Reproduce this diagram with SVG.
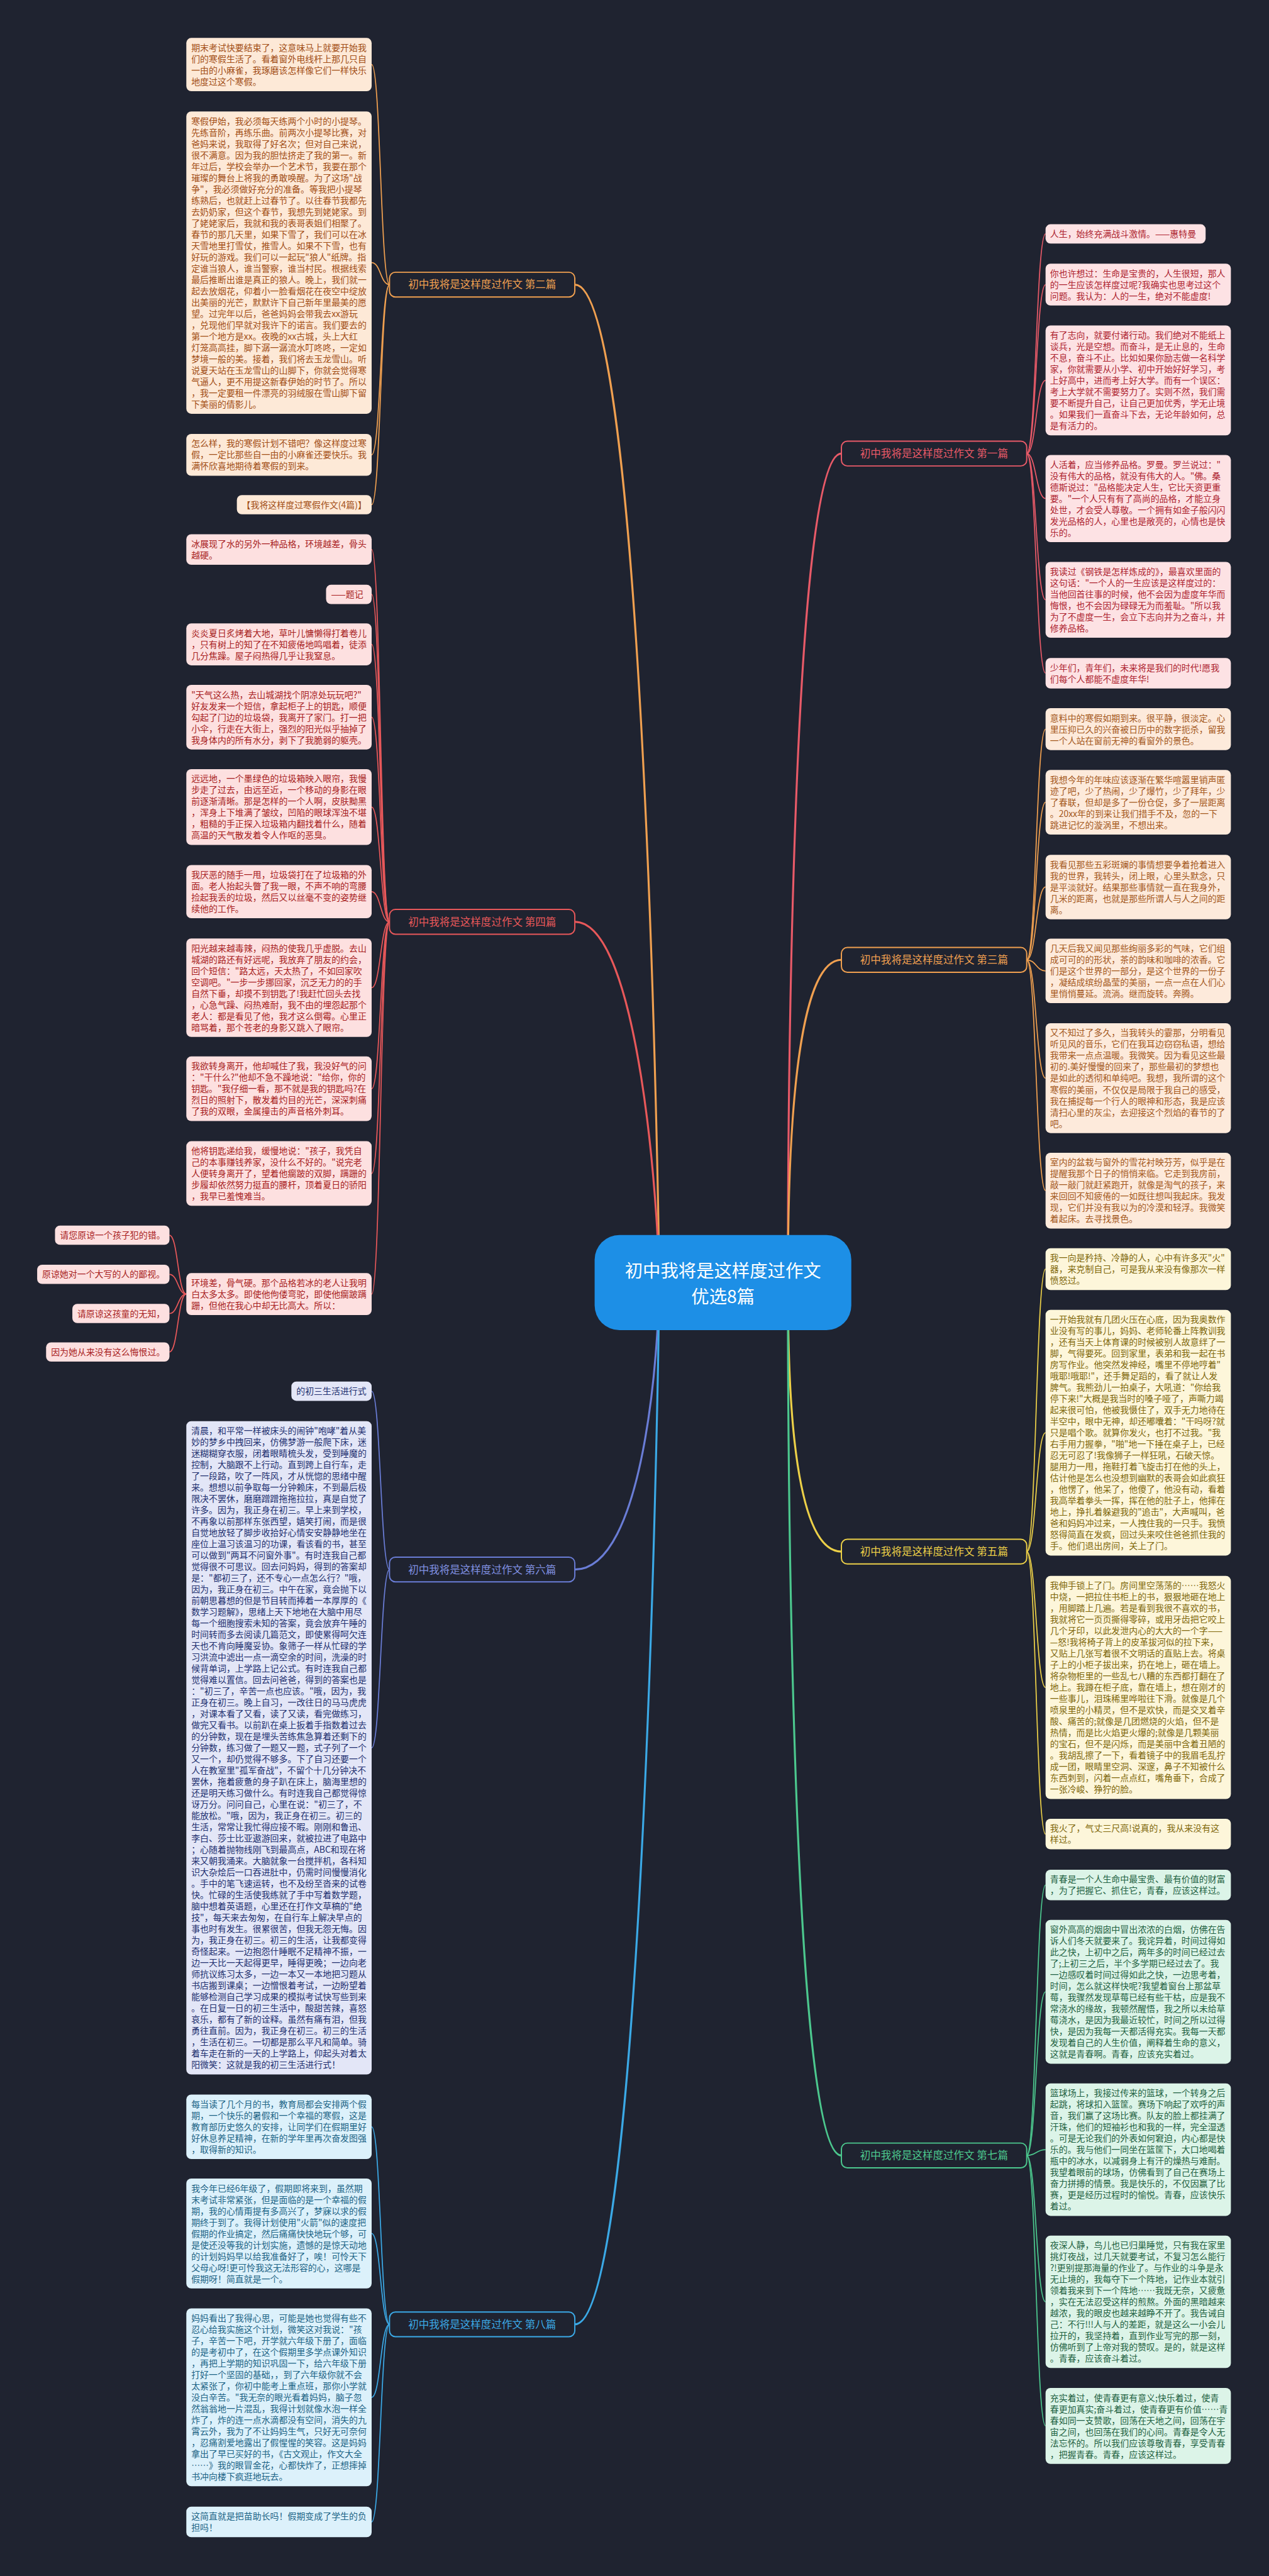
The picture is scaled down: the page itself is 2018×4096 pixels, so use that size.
<svg xmlns="http://www.w3.org/2000/svg" width="2018" height="4096" viewBox="0 0 2018 4096">
<style>
text{font-family:"Noto Sans CJK SC","Noto Sans",sans-serif;font-size:17.7px}
.lf{stroke-width:1}
.c2{fill:#fde9d7}.x2{fill:#a24e16}.s2{stroke:#f0a050}
.c4{fill:#fde0e0}.x4{fill:#a81e22}.s4{stroke:#e8585a}
.c6{fill:#e3e6f7}.x6{fill:#223070}.s6{stroke:#6a7dd6}
.c8{fill:#dcf1fb}.x8{fill:#1c6486}.s8{stroke:#3ba9e6}
.c1{fill:#fde2e4}.x1{fill:#ae2430}.s1{stroke:#e85a68}
.c3{fill:#fdeadb}.x3{fill:#a4581c}.s3{stroke:#f0a050}
.c5{fill:#fdf6da}.x5{fill:#80680c}.s5{stroke:#ecd048}
.c7{fill:#dcf4e8}.x7{fill:#1f6242}.s7{stroke:#4cc88e}
.ln{fill:none;stroke-width:2.2}
.mn{fill:none;stroke-width:4}
.br{fill:#1f2330;stroke-width:2.5}
.bt{font-size:21px}
.ct{font-size:36px;fill:#ffffff}
</style>
<rect x="0" y="0" width="2018" height="4096" fill="#1f2330"/>
<g transform="scale(0.788)">
<g id="connectors">
<path class="mn s2" d="M1160,574.35C1300,574.35 1330,2450 1330,2588"/>
<path class="mn s4" d="M1160,1860.1C1290,1860.1 1330,2450 1330,2588"/>
<path class="mn s6" d="M1160,3167C1300,3167 1330,2720 1330,2588"/>
<path class="mn s8" d="M1160,4690.2C1300,4690.2 1330,2720 1330,2588"/>
<path class="mn s1" d="M1698,915.2C1590,915.2 1590,2450 1590,2588"/>
<path class="mn s3" d="M1698,1936.9C1590,1936.9 1590,2450 1590,2588"/>
<path class="mn s5" d="M1698,3130.9C1590,3130.9 1590,2720 1590,2588"/>
<path class="mn s7" d="M1698,4349.4C1590,4349.4 1590,2720 1590,2588"/>
<path class="ln s2" d="M786,574.35C768,574.35 768,130.3 750,130.3"/>
<path class="ln s2" d="M786,574.35C768,574.35 768,529.85 750,529.85"/>
<path class="ln s2" d="M786,574.35C768,574.35 768,917.9 750,917.9"/>
<path class="ln s2" d="M786,574.35C768,574.35 768,1018.4 750,1018.4"/>
<path class="ln s4" d="M786,1860.1C768,1860.1 768,1108.85 750,1108.85"/>
<path class="ln s4" d="M786,1860.1C768,1860.1 768,1199.4 750,1199.4"/>
<path class="ln s4" d="M786,1860.1C768,1860.1 768,1300.3 750,1300.3"/>
<path class="ln s4" d="M786,1860.1C768,1860.1 768,1447.1 750,1447.1"/>
<path class="ln s4" d="M786,1860.1C768,1860.1 768,1628.55 750,1628.55"/>
<path class="ln s4" d="M786,1860.1C768,1860.1 768,1799.2 750,1799.2"/>
<path class="ln s4" d="M786,1860.1C768,1860.1 768,1993 750,1993"/>
<path class="ln s4" d="M786,1860.1C768,1860.1 768,2196.9 750,2196.9"/>
<path class="ln s4" d="M786,1860.1C768,1860.1 768,2367.9 750,2367.9"/>
<path class="ln s4" d="M786,1860.1C768,1860.1 768,2611.3 750,2611.3"/>
<path class="ln s4" d="M376,2611.3C359,2611.3 359,2492.4 342,2492.4"/>
<path class="ln s4" d="M376,2611.3C359,2611.3 359,2571.4 342,2571.4"/>
<path class="ln s4" d="M376,2611.3C359,2611.3 359,2650.4 342,2650.4"/>
<path class="ln s4" d="M376,2611.3C359,2611.3 359,2728 342,2728"/>
<path class="ln s6" d="M786,3167C768,3167 768,2807.2 750,2807.2"/>
<path class="ln s6" d="M786,3167C768,3167 768,3526.8 750,3526.8"/>
<path class="ln s8" d="M786,4690.2C768,4690.2 768,4291.6 750,4291.6"/>
<path class="ln s8" d="M786,4690.2C768,4690.2 768,4506.8 750,4506.8"/>
<path class="ln s8" d="M786,4690.2C768,4690.2 768,4837.4 750,4837.4"/>
<path class="ln s8" d="M786,4690.2C768,4690.2 768,5088.85 750,5088.85"/>
<path class="ln s1" d="M2072,915.2C2091,915.2 2091,471.9 2110,471.9"/>
<path class="ln s1" d="M2072,915.2C2091,915.2 2091,574.3 2110,574.3"/>
<path class="ln s1" d="M2072,915.2C2091,915.2 2091,767.6 2110,767.6"/>
<path class="ln s1" d="M2072,915.2C2091,915.2 2091,1006 2110,1006"/>
<path class="ln s1" d="M2072,915.2C2091,915.2 2091,1210.35 2110,1210.35"/>
<path class="ln s1" d="M2072,915.2C2091,915.2 2091,1358.45 2110,1358.45"/>
<path class="ln s3" d="M2072,1936.9C2091,1936.9 2091,1471.3 2110,1471.3"/>
<path class="ln s3" d="M2072,1936.9C2091,1936.9 2091,1618.8 2110,1618.8"/>
<path class="ln s3" d="M2072,1936.9C2091,1936.9 2091,1789.9 2110,1789.9"/>
<path class="ln s3" d="M2072,1936.9C2091,1936.9 2091,1959.1 2110,1959.1"/>
<path class="ln s3" d="M2072,1936.9C2091,1936.9 2091,2175.5 2110,2175.5"/>
<path class="ln s3" d="M2072,1936.9C2091,1936.9 2091,2402.55 2110,2402.55"/>
<path class="ln s5" d="M2072,3130.9C2091,3130.9 2091,2560.9 2110,2560.9"/>
<path class="ln s5" d="M2072,3130.9C2091,3130.9 2091,2890.9 2110,2890.9"/>
<path class="ln s5" d="M2072,3130.9C2091,3130.9 2091,3405.1 2110,3405.1"/>
<path class="ln s5" d="M2072,3130.9C2091,3130.9 2091,3700.85 2110,3700.85"/>
<path class="ln s7" d="M2072,4349.4C2091,4349.4 2091,3803.65 2110,3803.65"/>
<path class="ln s7" d="M2072,4349.4C2091,4349.4 2091,4019.1 2110,4019.1"/>
<path class="ln s7" d="M2072,4349.4C2091,4349.4 2091,4337.7 2110,4337.7"/>
<path class="ln s7" d="M2072,4349.4C2091,4349.4 2091,4644.7 2110,4644.7"/>
<path class="ln s7" d="M2072,4349.4C2091,4349.4 2091,4895.15 2110,4895.15"/>
</g>

<g id="center">
<rect x="1200" y="2492" width="518" height="192" rx="50" fill="#1d8fe6"/>
<text class="ct" x="1459" y="2578" text-anchor="middle">初中我将是这样度过作文</text>
<text class="ct" x="1459" y="2630" text-anchor="middle">优选8篇</text>
</g>

<g id="branch2"><rect class="br s2" x="786" y="549.35" width="374" height="50" rx="12"/><text class="bt x2" x="973" y="581.85" text-anchor="middle" style="fill:#f0a050">初中我将是这样度过作文 第二篇</text></g>
<g id="branch4"><rect class="br s4" x="786" y="1835.1" width="374" height="50" rx="12"/><text class="bt" x="973" y="1867.6" text-anchor="middle" style="fill:#e8585a">初中我将是这样度过作文 第四篇</text></g>
<g id="branch6"><rect class="br s6" x="786" y="3142" width="374" height="50" rx="12"/><text class="bt" x="973" y="3174.5" text-anchor="middle" style="fill:#8090e0">初中我将是这样度过作文 第六篇</text></g>
<g id="branch8"><rect class="br s8" x="786" y="4665.2" width="374" height="50" rx="12"/><text class="bt" x="973" y="4697.7" text-anchor="middle" style="fill:#3ba9e6">初中我将是这样度过作文 第八篇</text></g>
<g id="branch1"><rect class="br s1" x="1698" y="890.2" width="374" height="50" rx="12"/><text class="bt" x="1885" y="922.7" text-anchor="middle" style="fill:#e85a68">初中我将是这样度过作文 第一篇</text></g>
<g id="branch3"><rect class="br s3" x="1698" y="1911.9" width="374" height="50" rx="12"/><text class="bt" x="1885" y="1944.4" text-anchor="middle" style="fill:#f0a050">初中我将是这样度过作文 第三篇</text></g>
<g id="branch5"><rect class="br s5" x="1698" y="3105.9" width="374" height="50" rx="12"/><text class="bt" x="1885" y="3138.4" text-anchor="middle" style="fill:#ecd048">初中我将是这样度过作文 第五篇</text></g>
<g id="branch7"><rect class="br s7" x="1698" y="4324.4" width="374" height="50" rx="12"/><text class="bt" x="1885" y="4356.9" text-anchor="middle" style="fill:#4cc88e">初中我将是这样度过作文 第七篇</text></g>

<g id="A1"><rect class="c2" x="376" y="76.6" width="374" height="107.4" rx="10"/><text class="x2" x="386" y="102.6"><tspan x="386">期末考试快要结束了，这意味马上就要开始我</tspan><tspan x="386" dy="22.85">们的寒假生活了。看着窗外电线杆上那几只自</tspan><tspan x="386" dy="22.85">一由的小麻雀，我琢磨该怎样像它们一样快乐</tspan><tspan x="386" dy="22.85">地度过这个寒假。</tspan></text></g>
<g id="A2"><rect class="c2" x="376" y="224.8" width="374" height="610.1" rx="10"/><text class="x2" x="386" y="250.8"><tspan x="386">寒假伊始，我必须每天练两个小时的小提琴。</tspan><tspan x="386" dy="22.85">先练音阶，再练乐曲。前两次小提琴比赛，对</tspan><tspan x="386" dy="22.85">爸妈来说，我取得了好名次；但对自己来说，</tspan><tspan x="386" dy="22.85">很不满意。因为我的胆怯挤走了我的第一。新</tspan><tspan x="386" dy="22.85">年过后，学校会举办一个艺术节，我要在那个</tspan><tspan x="386" dy="22.85">璀璨的舞台上将我的勇敢唤醒。为了这场"战</tspan><tspan x="386" dy="22.85">争"，我必须做好充分的准备。等我把小提琴</tspan><tspan x="386" dy="22.85">练熟后，也就赶上过春节了。以往春节我都先</tspan><tspan x="386" dy="22.85">去奶奶家，但这个春节，我想先到姥姥家。到</tspan><tspan x="386" dy="22.85">了姥姥家后，我就和我的表哥表姐们相聚了。</tspan><tspan x="386" dy="22.85">春节的那几天里，如果下雪了，我们可以在冰</tspan><tspan x="386" dy="22.85">天雪地里打雪仗，推雪人。如果不下雪，也有</tspan><tspan x="386" dy="22.85">好玩的游戏。我们可以一起玩"狼人"纸牌。指</tspan><tspan x="386" dy="22.85">定谁当狼人，谁当警察，谁当村民。根据线索</tspan><tspan x="386" dy="22.85">最后推断出谁是真正的狼人。晚上，我们就一</tspan><tspan x="386" dy="22.85">起去放烟花，仰着小一脸看烟花在夜空中绽放</tspan><tspan x="386" dy="22.85">出美丽的光芒，默默许下自己新年里最美的愿</tspan><tspan x="386" dy="22.85">望。过完年以后，爸爸妈妈会带我去xx游玩</tspan><tspan x="386" dy="22.85">，兑现他们早就对我许下的诺言。我们要去的</tspan><tspan x="386" dy="22.85">第一个地方是xx。夜晚的xx古城，头上大红</tspan><tspan x="386" dy="22.85">灯笼高高挂，脚下潺一潺流水叮咚咚，一定如</tspan><tspan x="386" dy="22.85">梦境一般的美。接着，我们将去玉龙雪山。听</tspan><tspan x="386" dy="22.85">说夏天站在玉龙雪山的山脚下，你就会觉得寒</tspan><tspan x="386" dy="22.85">气逼人，更不用提这新春伊始的时节了。所以</tspan><tspan x="386" dy="22.85">，我一定要租一件漂亮的羽绒服在雪山脚下留</tspan><tspan x="386" dy="22.85">下美丽的倩影儿。</tspan></text></g>
<g id="A3"><rect class="c2" x="376" y="875.6" width="374" height="84.55" rx="10"/><text class="x2" x="386" y="901.6"><tspan x="386">怎么样，我的寒假计划不错吧？像这样度过寒</tspan><tspan x="386" dy="22.85">假，一定比那些自一由的小麻雀还要快乐。我</tspan><tspan x="386" dy="22.85">满怀欣喜地期待着寒假的到来。</tspan></text></g>
<g id="A4"><rect class="c2" x="478" y="999" width="272" height="38.85" rx="10"/><text class="x2" x="488" y="1025">【我将这样度过寒假作文(4篇)】</text></g>

<g id="B1"><rect class="c4" x="376" y="1078" width="374" height="61.7" rx="10"/><text class="x4" x="386" y="1104"><tspan x="386">冰展现了水的另外一种品格，环境越差，骨头</tspan><tspan x="386" dy="22.85">越硬。</tspan></text></g>
<g id="B2"><rect class="c4" x="658" y="1180" width="92" height="38.85" rx="10"/><text class="x4" x="668" y="1206">——题记</text></g>
<g id="B3"><rect class="c4" x="376" y="1258" width="374" height="84.55" rx="10"/><text class="x4" x="386" y="1284"><tspan x="386">炎炎夏日炙烤着大地，草叶儿慵懒得打着卷儿</tspan><tspan x="386" dy="22.85">，只有树上的知了在不知疲倦地鸣唱着，徒添</tspan><tspan x="386" dy="22.85">几分焦躁。屋子闷热得几乎让我窒息。</tspan></text></g>
<g id="B4"><rect class="c4" x="376" y="1382" width="374" height="130.25" rx="10"/><text class="x4" x="386" y="1408"><tspan x="386">"天气这么热，去山城湖找个阴凉处玩玩吧?"</tspan><tspan x="386" dy="22.85">好友发来一个短信，拿起柜子上的钥匙，顺便</tspan><tspan x="386" dy="22.85">勾起了门边的垃圾袋，我离开了家门。打一把</tspan><tspan x="386" dy="22.85">小伞，行走在大街上，强烈的阳光似乎抽掉了</tspan><tspan x="386" dy="22.85">我身体内的所有水分，剥下了我脆弱的躯壳。</tspan></text></g>
<g id="B5"><rect class="c4" x="376" y="1552" width="374" height="153.1" rx="10"/><text class="x4" x="386" y="1578"><tspan x="386">远远地，一个墨绿色的垃圾箱映入眼帘，我慢</tspan><tspan x="386" dy="22.85">步走了过去，由远至近，一个移动的身影在眼</tspan><tspan x="386" dy="22.85">前逐渐清晰。那是怎样的一个人啊，皮肤黝黑</tspan><tspan x="386" dy="22.85">，浑身上下堆满了皱纹，凹陷的眼球浑浊不堪</tspan><tspan x="386" dy="22.85">，粗糙的手正探入垃圾箱内翻找着什么，随着</tspan><tspan x="386" dy="22.85">高温的天气散发着令人作呕的恶臭。</tspan></text></g>
<g id="B6"><rect class="c4" x="376" y="1745.5" width="374" height="107.4" rx="10"/><text class="x4" x="386" y="1771.5"><tspan x="386">我厌恶的随手一甩，垃圾袋打在了垃圾箱的外</tspan><tspan x="386" dy="22.85">面。老人抬起头瞥了我一眼，不声不响的弯腰</tspan><tspan x="386" dy="22.85">捡起我丢的垃圾，然后又以丝毫不变的姿势继</tspan><tspan x="386" dy="22.85">续他的工作。</tspan></text></g>
<g id="B7"><rect class="c4" x="376" y="1893.6" width="374" height="198.8" rx="10"/><text class="x4" x="386" y="1919.6"><tspan x="386">阳光越来越毒辣，闷热的使我几乎虚脱。去山</tspan><tspan x="386" dy="22.85">城湖的路还有好远呢，我放弃了朋友的约会，</tspan><tspan x="386" dy="22.85">回个短信："路太远，天太热了，不如回家吹</tspan><tspan x="386" dy="22.85">空调吧。"一步一步挪回家，沉乏无力的的手</tspan><tspan x="386" dy="22.85">自然下垂，却摸不到钥匙了!我赶忙回头去找</tspan><tspan x="386" dy="22.85">，心急气躁、闷热难耐，我不由的埋怨起那个</tspan><tspan x="386" dy="22.85">老人：都是看见了他，我才这么倒霉。心里正</tspan><tspan x="386" dy="22.85">暗骂着，那个苍老的身影又跳入了眼帘。</tspan></text></g>
<g id="B8"><rect class="c4" x="376" y="2131.8" width="374" height="130.25" rx="10"/><text class="x4" x="386" y="2157.8"><tspan x="386">我欲转身离开，他却喊住了我，我没好气的问</tspan><tspan x="386" dy="22.85">："干什么?"他却不急不躁地说："给你，你的</tspan><tspan x="386" dy="22.85">钥匙。"我仔细一看，那不就是我的钥匙吗?在</tspan><tspan x="386" dy="22.85">烈日的照射下，散发着灼目的光芒，深深刺痛</tspan><tspan x="386" dy="22.85">了我的双眼，金属撞击的声音格外刺耳。</tspan></text></g>
<g id="B9"><rect class="c4" x="376" y="2302.8" width="374" height="130.25" rx="10"/><text class="x4" x="386" y="2328.8"><tspan x="386">他将钥匙递给我，缓慢地说："孩子，我凭自</tspan><tspan x="386" dy="22.85">己的本事赚钱养家，没什么不好的。"说完老</tspan><tspan x="386" dy="22.85">人便转身离开了，望着他瘸跛的双脚，蹒跚的</tspan><tspan x="386" dy="22.85">步履却依然努力挺直的腰杆，顶着夏日的骄阳</tspan><tspan x="386" dy="22.85">，我早已羞愧难当。</tspan></text></g>
<g id="B10"><rect class="c4" x="376" y="2569" width="374" height="84.55" rx="10"/><text class="x4" x="386" y="2595"><tspan x="386">环境差，骨气硬。那个品格若冰的老人让我明</tspan><tspan x="386" dy="22.85">白太多太多。即使他佝偻弯驼，即使他瘸跛蹒</tspan><tspan x="386" dy="22.85">跚，但他在我心中却无比高大。所以：</tspan></text></g>
<g id="C1"><rect class="c4" x="111" y="2473" width="231" height="38.85" rx="10"/><text class="x4" x="121" y="2499">请您原谅一个孩子犯的错。</text></g>
<g id="C2"><rect class="c4" x="75" y="2552" width="267" height="38.85" rx="10"/><text class="x4" x="85" y="2578">原谅她对一个大写的人的鄙视。</text></g>
<g id="C3"><rect class="c4" x="146" y="2631" width="196" height="38.85" rx="10"/><text class="x4" x="156" y="2657">请原谅这孩童的无知，</text></g>
<g id="C4"><rect class="c4" x="93" y="2708.6" width="249" height="38.85" rx="10"/><text class="x4" x="103" y="2734.6">因为她从来没有这么悔恨过。</text></g>

<g id="D1"><rect class="c6" x="588" y="2787.8" width="162" height="38.85" rx="10"/><text class="x6" x="598" y="2813.8">的初三生活进行式</text></g>
<g id="D2"><rect class="c6" x="376" y="2867.6" width="374" height="1318.45" rx="10"/><text class="x6" x="386" y="2893.6"><tspan x="386">清晨，和平常一样被床头的闹钟"咆哮"着从美</tspan><tspan x="386" dy="22.85">妙的梦乡中拽回来，仿佛梦游一般爬下床，迷</tspan><tspan x="386" dy="22.85">迷糊糊穿衣服，闭着眼睛梳头发，受到睡魔的</tspan><tspan x="386" dy="22.85">控制，大脑跟不上行动。直到跨上自行车，走</tspan><tspan x="386" dy="22.85">了一段路，吹了一阵风，才从恍惚的思绪中醒</tspan><tspan x="386" dy="22.85">来。想想以前争取每一分钟赖床，不到最后极</tspan><tspan x="386" dy="22.85">限决不罢休，磨磨蹭蹭拖拖拉拉，真是自觉了</tspan><tspan x="386" dy="22.85">许多。因为，我正身在初三。早上来到学校，</tspan><tspan x="386" dy="22.85">不再象以前那样东张西望，嬉笑打闹，而是很</tspan><tspan x="386" dy="22.85">自觉地放轻了脚步收拾好心情安安静静地坐在</tspan><tspan x="386" dy="22.85">座位上温习该温习的功课，看该看的书，甚至</tspan><tspan x="386" dy="22.85">可以做到"两耳不问窗外事"。有时连我自己都</tspan><tspan x="386" dy="22.85">觉得很不可思议。回去问妈妈，得到的答案却</tspan><tspan x="386" dy="22.85">是："都初三了，还不专心一点怎么行？"哦，</tspan><tspan x="386" dy="22.85">因为，我正身在初三。中午在家，竟会抛下以</tspan><tspan x="386" dy="22.85">前朝思暮想的但是节目转而捧着一本厚厚的《</tspan><tspan x="386" dy="22.85">数学习题解》，思绪上天下地地在大脑中用尽</tspan><tspan x="386" dy="22.85">每一个细胞搜索未知的答案，竟会放弃午睡的</tspan><tspan x="386" dy="22.85">时间转而多去阅读几篇范文，即使累得呵欠连</tspan><tspan x="386" dy="22.85">天也不肯向睡魔妥协。象筛子一样从忙碌的学</tspan><tspan x="386" dy="22.85">习洪流中滤出一点一滴空余的时间，洗澡的时</tspan><tspan x="386" dy="22.85">候背单词，上学路上记公式。有时连我自己都</tspan><tspan x="386" dy="22.85">觉得难以置信。回去问爸爸，得到的答案也是</tspan><tspan x="386" dy="22.85">："初三了，辛苦一点也应该。"哦，因为，我</tspan><tspan x="386" dy="22.85">正身在初三。晚上自习，一改往日的马马虎虎</tspan><tspan x="386" dy="22.85">，对课本看了又看，读了又读，看完做练习，</tspan><tspan x="386" dy="22.85">做完又看书。以前趴在桌上扳着手指数着过去</tspan><tspan x="386" dy="22.85">的分钟数，现在是埋头苦练焦急算着还剩下的</tspan><tspan x="386" dy="22.85">分钟数，练习做了一题又一题，式子列了一个</tspan><tspan x="386" dy="22.85">又一个，却仍觉得不够多。下了自习还要一个</tspan><tspan x="386" dy="22.85">人在教室里"孤军奋战"，不留个十几分钟决不</tspan><tspan x="386" dy="22.85">罢休，拖着疲惫的身子趴在床上，脑海里想的</tspan><tspan x="386" dy="22.85">还是明天练习做什么。有时连我自己都觉得惊</tspan><tspan x="386" dy="22.85">讶万分。问问自己，心里在说："初三了，不</tspan><tspan x="386" dy="22.85">能放松。"哦，因为，我正身在初三。初三的</tspan><tspan x="386" dy="22.85">生活，常常让我忙得应接不暇。刚刚和鲁迅、</tspan><tspan x="386" dy="22.85">李白、莎士比亚遨游回来，就被拉进了电路中</tspan><tspan x="386" dy="22.85">；心随着抛物线刚飞到最高点，ABC和现在将</tspan><tspan x="386" dy="22.85">来又朝我涌来。大脑就象一台搅拌机，各科知</tspan><tspan x="386" dy="22.85">识大杂烩后一口吞进肚中，仍需时间慢慢消化</tspan><tspan x="386" dy="22.85">。手中的笔飞速运转，也不及纷至沓来的试卷</tspan><tspan x="386" dy="22.85">快。忙碌的生活使我练就了手中写着数学题，</tspan><tspan x="386" dy="22.85">脑中想着英语题，心里还在打作文草稿的"绝</tspan><tspan x="386" dy="22.85">技"，每天来去匆匆，在自行车上解决早点的</tspan><tspan x="386" dy="22.85">事也时有发生。很累很苦，但我无怨无悔。因</tspan><tspan x="386" dy="22.85">为，我正身在初三。初三的生活，让我都变得</tspan><tspan x="386" dy="22.85">奇怪起来。一边抱怨什睡眠不足精神不振，一</tspan><tspan x="386" dy="22.85">边一天比一天起得更早，睡得更晚；一边向老</tspan><tspan x="386" dy="22.85">师抗议练习太多，一边一本又一本地把习题从</tspan><tspan x="386" dy="22.85">书店搬到课桌；一边憎恨着考试，一边盼望着</tspan><tspan x="386" dy="22.85">能够检测自己学习成果的模拟考试快写些到来</tspan><tspan x="386" dy="22.85">。在日复一日的初三生活中，酸甜苦辣，喜怒</tspan><tspan x="386" dy="22.85">哀乐，都有了新的诠释。虽然有痛有泪，但我</tspan><tspan x="386" dy="22.85">勇往直前。因为，我正身在初三。初三的生活</tspan><tspan x="386" dy="22.85">，生活在初三。一切都是那么平凡和简单。骑</tspan><tspan x="386" dy="22.85">着车走在新的一天的上学路上，仰起头对着太</tspan><tspan x="386" dy="22.85">阳微笑：这就是我的初三生活进行式！</tspan></text></g>

<g id="E1"><rect class="c8" x="376" y="4226.5" width="374" height="130.25" rx="10"/><text class="x8" x="386" y="4252.5"><tspan x="386">每当读了几个月的书，教育局都会安排两个假</tspan><tspan x="386" dy="22.85">期，一个快乐的暑假和一个幸福的寒假，这是</tspan><tspan x="386" dy="22.85">教育部历史悠久的安排，让同学们在假期里好</tspan><tspan x="386" dy="22.85">好休息养足精神，在新的学年里再次奋发图强</tspan><tspan x="386" dy="22.85">，取得新的知识。</tspan></text></g>
<g id="E2"><rect class="c8" x="376" y="4396" width="374" height="221.65" rx="10"/><text class="x8" x="386" y="4422"><tspan x="386">我今年已经6年级了，假期即将来到，虽然期</tspan><tspan x="386" dy="22.85">末考试非常紧张，但是面临的是一个幸福的假</tspan><tspan x="386" dy="22.85">期，我的心情甭提有多高兴了，梦寐以求的假</tspan><tspan x="386" dy="22.85">期终于到了。我得计划使用"火箭"似的速度把</tspan><tspan x="386" dy="22.85">假期的作业搞定，然后痛痛快快地玩个够，可</tspan><tspan x="386" dy="22.85">是使还没等我的计划实施，遗憾的是惊天动地</tspan><tspan x="386" dy="22.85">的计划妈妈早以给我准备好了，唉！可怜天下</tspan><tspan x="386" dy="22.85">父母心呀!更可怜我这无法形容的心，这哪是</tspan><tspan x="386" dy="22.85">假期呀！简直就是一个。</tspan></text></g>
<g id="E3"><rect class="c8" x="376" y="4658" width="374" height="358.75" rx="10"/><text class="x8" x="386" y="4684"><tspan x="386">妈妈看出了我得心思，可能是她也觉得有些不</tspan><tspan x="386" dy="22.85">忍心给我实施这个计划，微笑这对我说："孩</tspan><tspan x="386" dy="22.85">子，辛苦一下吧，开学就六年级下册了，面临</tspan><tspan x="386" dy="22.85">的是考初中了，在这个假期里多学点课外知识</tspan><tspan x="386" dy="22.85">，再把上学期的知识巩固一下，给六年级下册</tspan><tspan x="386" dy="22.85">打好一个坚固的基础，，到了六年级你就不会</tspan><tspan x="386" dy="22.85">太紧张了，你初中能考上重点班，那你小学就</tspan><tspan x="386" dy="22.85">没白辛苦。"我无奈的眼光看着妈妈，脑子忽</tspan><tspan x="386" dy="22.85">然翁翁地一片混乱，我得计划就像水泡一样全</tspan><tspan x="386" dy="22.85">炸了，炸的连一点水滴都没有空间，消失的九</tspan><tspan x="386" dy="22.85">霄云外，我为了不让妈妈生气，只好无可奈何</tspan><tspan x="386" dy="22.85">，忍痛割爱地露出了假惺惺的笑容。这是妈妈</tspan><tspan x="386" dy="22.85">拿出了早已买好的书，《古文观止，作文大全</tspan><tspan x="386" dy="22.85">……》我的眼冒金花，心都快炸了，正想摔掉</tspan><tspan x="386" dy="22.85">书冲向楼下疯逛地玩去。</tspan></text></g>
<g id="E4"><rect class="c8" x="376" y="5058" width="374" height="61.7" rx="10"/><text class="x8" x="386" y="5084"><tspan x="386">这简直就是把苗助长吗！假期变成了学生的负</tspan><tspan x="386" dy="22.85">担吗！</tspan></text></g>

<g id="R1"><rect class="c1" x="2110" y="452.5" width="323" height="38.85" rx="10"/><text class="x1" x="2119" y="478.5">人生，始终充满战斗激情。——惠特曼</text></g>
<g id="R2"><rect class="c1" x="2110" y="532" width="374" height="84.55" rx="10"/><text class="x1" x="2119" y="558"><tspan x="2119">你也许想过：生命是宝贵的，人生很短，那人</tspan><tspan x="2119" dy="22.85">的一生应该怎样度过呢?我确实也思考过这个</tspan><tspan x="2119" dy="22.85">问题。我认为：人的一生，绝对不能虚度!</tspan></text></g>
<g id="R3"><rect class="c1" x="2110" y="656.8" width="374" height="221.65" rx="10"/><text class="x1" x="2119" y="682.8"><tspan x="2119">有了志向，就要付诸行动。我们绝对不能纸上</tspan><tspan x="2119" dy="22.85">谈兵，光是空想。而奋斗，是无止息的，生命</tspan><tspan x="2119" dy="22.85">不息，奋斗不止。比如如果你励志做一名科学</tspan><tspan x="2119" dy="22.85">家，你就需要从小学、初中开始好好学习，考</tspan><tspan x="2119" dy="22.85">上好高中，进而考上好大学。而有一个误区：</tspan><tspan x="2119" dy="22.85">考上大学就不需要努力了。实则不然，我们需</tspan><tspan x="2119" dy="22.85">要不断提升自己，让自己更加优秀，学无止境</tspan><tspan x="2119" dy="22.85">。如果我们一直奋斗下去，无论年龄如何，总</tspan><tspan x="2119" dy="22.85">是有活力的。</tspan></text></g>
<g id="R4"><rect class="c1" x="2110" y="918" width="374" height="175.95" rx="10"/><text class="x1" x="2119" y="944"><tspan x="2119">人活着，应当修养品格。罗曼。罗兰说过："</tspan><tspan x="2119" dy="22.85">没有伟大的品格，就没有伟大的人。"佛。桑</tspan><tspan x="2119" dy="22.85">德斯说过："品格能决定人生，它比天资更重</tspan><tspan x="2119" dy="22.85">要。"一个人只有有了高尚的品格，才能立身</tspan><tspan x="2119" dy="22.85">处世，才会受人尊敬。一个拥有如金子般闪闪</tspan><tspan x="2119" dy="22.85">发光品格的人，心里也是敞亮的，心情也是快</tspan><tspan x="2119" dy="22.85">乐的。</tspan></text></g>
<g id="R5"><rect class="c1" x="2110" y="1133.8" width="374" height="153.1" rx="10"/><text class="x1" x="2119" y="1159.8"><tspan x="2119">我读过《钢铁是怎样炼成的》，最喜欢里面的</tspan><tspan x="2119" dy="22.85">这句话："一个人的一生应该是这样度过的：</tspan><tspan x="2119" dy="22.85">当他回首往事的时候，他不会因为虚度年华而</tspan><tspan x="2119" dy="22.85">悔恨，也不会因为碌碌无为而羞耻。"所以我</tspan><tspan x="2119" dy="22.85">为了不虚度一生，会立下志向并为之奋斗，并</tspan><tspan x="2119" dy="22.85">修养品格。</tspan></text></g>
<g id="R6"><rect class="c1" x="2110" y="1327.6" width="374" height="61.7" rx="10"/><text class="x1" x="2119" y="1353.6"><tspan x="2119">少年们，青年们，未来将是我们的时代!愿我</tspan><tspan x="2119" dy="22.85">们每个人都能不虚度年华!</tspan></text></g>

<g id="S1"><rect class="c3" x="2110" y="1429" width="374" height="84.55" rx="10"/><text class="x3" x="2119" y="1455"><tspan x="2119">意料中的寒假如期到来。很平静，很淡定。心</tspan><tspan x="2119" dy="22.85">里压抑已久的兴奋被日历中的数字扼杀，留我</tspan><tspan x="2119" dy="22.85">一个人站在窗前无神的看窗外的景色。</tspan></text></g>
<g id="S2"><rect class="c3" x="2110" y="1553.7" width="374" height="130.25" rx="10"/><text class="x3" x="2119" y="1579.7"><tspan x="2119">我想今年的年味应该逐渐在繁华喧嚣里销声匿</tspan><tspan x="2119" dy="22.85">迹了吧，少了热闹，少了爆竹，少了拜年，少</tspan><tspan x="2119" dy="22.85">了春联，但却是多了一份仓促，多了一层距离</tspan><tspan x="2119" dy="22.85">。20xx年的到来让我们措手不及，忽的一下</tspan><tspan x="2119" dy="22.85">跳进记忆的漩涡里，不想出来。</tspan></text></g>
<g id="S3"><rect class="c3" x="2110" y="1724.8" width="374" height="130.25" rx="10"/><text class="x3" x="2119" y="1750.8"><tspan x="2119">我看见那些五彩斑斓的事情想要争着抢着进入</tspan><tspan x="2119" dy="22.85">我的世界，我转头，闭上眼，心里头默念，只</tspan><tspan x="2119" dy="22.85">是平淡就好。结果那些事情就一直在我身外，</tspan><tspan x="2119" dy="22.85">几米的距离，也就是那些所谓人与人之间的距</tspan><tspan x="2119" dy="22.85">离。</tspan></text></g>
<g id="S4"><rect class="c3" x="2110" y="1894" width="374" height="130.25" rx="10"/><text class="x3" x="2119" y="1920"><tspan x="2119">几天后我又闻见那些绚丽多彩的气味，它们组</tspan><tspan x="2119" dy="22.85">成可可的的形状，茶的韵味和咖啡的浓香。它</tspan><tspan x="2119" dy="22.85">们是这个世界的一部分，是这个世界的一份子</tspan><tspan x="2119" dy="22.85">，凝结成缤纷晶莹的美丽，一点一点在人们心</tspan><tspan x="2119" dy="22.85">里悄悄蔓延。流淌。继而旋转。奔腾。</tspan></text></g>
<g id="S5"><rect class="c3" x="2110" y="2064.7" width="374" height="221.65" rx="10"/><text class="x3" x="2119" y="2090.7"><tspan x="2119">又不知过了多久，当我转头的霎那，分明看见</tspan><tspan x="2119" dy="22.85">听见风的音乐，它们在我耳边窃窃私语，想给</tspan><tspan x="2119" dy="22.85">我带来一点点温暖。我微笑。因为看见这些最</tspan><tspan x="2119" dy="22.85">初的.美好慢慢的回来了，那些最初的梦想也</tspan><tspan x="2119" dy="22.85">是如此的透彻和单纯吧。我想，我所谓的这个</tspan><tspan x="2119" dy="22.85">寒假的美丽，不仅仅是局限于我自己的感受，</tspan><tspan x="2119" dy="22.85">我在捕捉每一个行人的眼神和形态，我是应该</tspan><tspan x="2119" dy="22.85">清扫心里的灰尘，去迎接这个烈焰的春节的了</tspan><tspan x="2119" dy="22.85">吧。</tspan></text></g>
<g id="S6"><rect class="c3" x="2110" y="2326" width="374" height="153.1" rx="10"/><text class="x3" x="2119" y="2352"><tspan x="2119">室内的盆栽与窗外的雪花衬映芬芳，似乎是在</tspan><tspan x="2119" dy="22.85">提醒我那个日子的悄悄来临。它走到我房前，</tspan><tspan x="2119" dy="22.85">敲一敲门就赶紧跑开，就像是淘气的孩子，来</tspan><tspan x="2119" dy="22.85">来回回不知疲倦的一如既往想叫我起床。我发</tspan><tspan x="2119" dy="22.85">现，它们并没有我以为的冷漠和轻浮。我微笑</tspan><tspan x="2119" dy="22.85">着起床。去寻找景色。</tspan></text></g>

<g id="T1"><rect class="c5" x="2110" y="2518.6" width="374" height="84.55" rx="10"/><text class="x5" x="2119" y="2544.6"><tspan x="2119">我一向是矜持、冷静的人，心中有许多灭"火"</tspan><tspan x="2119" dy="22.85">器，来克制自己，可是我从来没有像那次一样</tspan><tspan x="2119" dy="22.85">愤怒过。</tspan></text></g>
<g id="T2"><rect class="c5" x="2110" y="2643" width="374" height="495.85" rx="10"/><text class="x5" x="2119" y="2669"><tspan x="2119">一开始我就有几团火压在心底，因为我奥数作</tspan><tspan x="2119" dy="22.85">业没有写的事儿，妈妈、老师轮番上阵教训我</tspan><tspan x="2119" dy="22.85">，还有当天上体育课的时候被别人故意绊了一</tspan><tspan x="2119" dy="22.85">脚，气得要死。回到家里，表弟和我一起在书</tspan><tspan x="2119" dy="22.85">房写作业。他突然发神经，嘴里不停地哼着"</tspan><tspan x="2119" dy="22.85">哦耶!哦耶!"，还手舞足蹈的，看了就让人发</tspan><tspan x="2119" dy="22.85">脾气。我熊劲儿一拍桌子，大吼道："你给我</tspan><tspan x="2119" dy="22.85">停下来!"大概是我当时的嗓子哑了，声嘶力竭</tspan><tspan x="2119" dy="22.85">起来很可怕，他被我慑住了，双手无力地待在</tspan><tspan x="2119" dy="22.85">半空中，眼中无神，却还嘟囔着："干吗呀?就</tspan><tspan x="2119" dy="22.85">只是唱个歌。就算你发火，也打不过我。"我</tspan><tspan x="2119" dy="22.85">右手用力握拳，"啪"地一下捶在桌子上，已经</tspan><tspan x="2119" dy="22.85">忍无可忍了!我像狮子一样狂吼，石破天惊。</tspan><tspan x="2119" dy="22.85">腿用力一甩，拖鞋打着飞旋击打在他的头上，</tspan><tspan x="2119" dy="22.85">估计他是怎么也没想到幽默的表哥会如此疯狂</tspan><tspan x="2119" dy="22.85">，他愣了，他呆了，他傻了，他没有动，看着</tspan><tspan x="2119" dy="22.85">我高举着拳头一挥，挥在他的肚子上，他摔在</tspan><tspan x="2119" dy="22.85">地上，挣扎着躲避我的"追击"，大声喊叫，爸</tspan><tspan x="2119" dy="22.85">爸和妈妈冲过来，一人拽住我的一只手。我愤</tspan><tspan x="2119" dy="22.85">怒得简直在发疯，回过头来咬住爸爸抓住我的</tspan><tspan x="2119" dy="22.85">手。他们退出房间，关上了门。</tspan></text></g>
<g id="T3"><rect class="c5" x="2110" y="3180" width="374" height="450.15" rx="10"/><text class="x5" x="2119" y="3206"><tspan x="2119">我伸手锁上了门。房间里空荡荡的……我怒火</tspan><tspan x="2119" dy="22.85">中烧，一把拉住书柜上的书，狠狠地砸在地上</tspan><tspan x="2119" dy="22.85">，用脚踏上几遍。若是看到我很不喜欢的书，</tspan><tspan x="2119" dy="22.85">我就将它一页页撕得零碎，或用牙齿把它咬上</tspan><tspan x="2119" dy="22.85">几个牙印，以此发泄内心的大大的一个字——</tspan><tspan x="2119" dy="22.85">—怒!我将椅子背上的皮革拔河似的拉下来，</tspan><tspan x="2119" dy="22.85">又贴上几张写着很不文明话的直贴上去。将桌</tspan><tspan x="2119" dy="22.85">子上的小柜子拔出来，扔在地上，砸在墙上。</tspan><tspan x="2119" dy="22.85">将杂物柜里的一些乱七八糟的东西都打翻在了</tspan><tspan x="2119" dy="22.85">地上。我蹲在柜子底，靠在墙上，想在刚才的</tspan><tspan x="2119" dy="22.85">一些事儿，泪珠稀里哗啦往下滑。就像是几个</tspan><tspan x="2119" dy="22.85">喷泉里的小精灵，但不是欢快，而是交叉着辛</tspan><tspan x="2119" dy="22.85">酸、痛苦的;就像是几团燃烧的火焰，但不是</tspan><tspan x="2119" dy="22.85">热情，而是比火焰更火爆的;就像是几颗美丽</tspan><tspan x="2119" dy="22.85">的宝石，但不是闪烁，而是美丽中含着丑陋的</tspan><tspan x="2119" dy="22.85">。我胡乱擦了一下，看着镜子中的我眉毛乱拧</tspan><tspan x="2119" dy="22.85">成一团，眼睛里空洞、深邃，鼻子不知被什么</tspan><tspan x="2119" dy="22.85">东西刺到，闪着一点点红，嘴角垂下，合成了</tspan><tspan x="2119" dy="22.85">一张冷峻、狰狞的脸。</tspan></text></g>
<g id="T4"><rect class="c5" x="2110" y="3670" width="374" height="61.7" rx="10"/><text class="x5" x="2119" y="3696"><tspan x="2119">我火了，气丈三尺高!说真的，我从来没有这</tspan><tspan x="2119" dy="22.85">样过。</tspan></text></g>

<g id="U1"><rect class="c7" x="2110" y="3772.8" width="374" height="61.7" rx="10"/><text class="x7" x="2119" y="3798.8"><tspan x="2119">青春是一个人生命中最宝贵、最有价值的财富</tspan><tspan x="2119" dy="22.85">，为了把握它、抓住它，青春，应该这样过。</tspan></text></g>
<g id="U2"><rect class="c7" x="2110" y="3874" width="374" height="290.2" rx="10"/><text class="x7" x="2119" y="3900"><tspan x="2119">窗外高高的烟囱中冒出浓浓的白烟，仿佛在告</tspan><tspan x="2119" dy="22.85">诉人们冬天就要来了。我诧异着，时间过得如</tspan><tspan x="2119" dy="22.85">此之快，上初中之后，两年多的时间已经过去</tspan><tspan x="2119" dy="22.85">了;上初三之后，半个多学期已经过去了。我</tspan><tspan x="2119" dy="22.85">一边感叹着时间过得如此之快，一边思考着，</tspan><tspan x="2119" dy="22.85">时间，怎么就这样快呢?我望着窗台上那盆草</tspan><tspan x="2119" dy="22.85">莓，我骤然发现草莓已经有些干枯，应是我不</tspan><tspan x="2119" dy="22.85">常浇水的缘故，我顿然醒悟，我之所以未给草</tspan><tspan x="2119" dy="22.85">莓浇水，是因为我最近较忙，时间之所以过得</tspan><tspan x="2119" dy="22.85">快，是因为我每一天都活得充实。我每一天都</tspan><tspan x="2119" dy="22.85">发现着自己的人生价值，阐释着生命的意义，</tspan><tspan x="2119" dy="22.85">这就是青春啊。青春，应该充实着过。</tspan></text></g>
<g id="U3"><rect class="c7" x="2110" y="4204" width="374" height="267.35" rx="10"/><text class="x7" x="2119" y="4230"><tspan x="2119">篮球场上，我接过传来的篮球，一个转身之后</tspan><tspan x="2119" dy="22.85">起跳，将球扣入篮筐。赛场下响起了欢呼的声</tspan><tspan x="2119" dy="22.85">音，我们赢了这场比赛。队友的脸上都挂满了</tspan><tspan x="2119" dy="22.85">汗珠，他们的短袖衫也和我的一样，完全湿透</tspan><tspan x="2119" dy="22.85">。可是无论我们的外表如何窘迫，内心都是快</tspan><tspan x="2119" dy="22.85">乐的。我与他们一同坐在篮筐下，大口地喝着</tspan><tspan x="2119" dy="22.85">瓶中的冰水，以减弱身上有汗的燥热与难耐。</tspan><tspan x="2119" dy="22.85">我望着眼前的球场，仿佛看到了自己在赛场上</tspan><tspan x="2119" dy="22.85">奋力拼搏的情景。我是快乐的，不仅因赢了比</tspan><tspan x="2119" dy="22.85">赛，更是经历过程时的愉悦。青春，应该快乐</tspan><tspan x="2119" dy="22.85">着过。</tspan></text></g>
<g id="U4"><rect class="c7" x="2110" y="4511" width="374" height="267.35" rx="10"/><text class="x7" x="2119" y="4537"><tspan x="2119">夜深人静，鸟儿也已归巢睡觉，只有我在家里</tspan><tspan x="2119" dy="22.85">挑灯夜战，过几天就要考试，不复习怎么能行</tspan><tspan x="2119" dy="22.85">?!更别提那海量的作业了。与作业的斗争是永</tspan><tspan x="2119" dy="22.85">无止境的，我每夺下一个阵地，记作业本就引</tspan><tspan x="2119" dy="22.85">领着我来到下一个阵地……我既无奈，又疲惫</tspan><tspan x="2119" dy="22.85">，实在无法忍受这样的煎熬。外面的黑暗越来</tspan><tspan x="2119" dy="22.85">越浓，我的眼皮也越来越睁不开了。我告诫自</tspan><tspan x="2119" dy="22.85">己：不行!!!人与人的差距，就是这么一小会儿</tspan><tspan x="2119" dy="22.85">拉开的，我坚持着，直到作业写完的那一刻，</tspan><tspan x="2119" dy="22.85">仿佛听到了上帝对我的赞叹。是的，就是这样</tspan><tspan x="2119" dy="22.85">。青春，应该奋斗着过。</tspan></text></g>
<g id="U5"><rect class="c7" x="2110" y="4818.6" width="374" height="153.1" rx="10"/><text class="x7" x="2119" y="4844.6"><tspan x="2119">充实着过，使青春更有意义;快乐着过，使青</tspan><tspan x="2119" dy="22.85">春更加真实;奋斗着过，使青春更有价值……青</tspan><tspan x="2119" dy="22.85">春如同一支赞歌，回荡在天地之间，回荡在宇</tspan><tspan x="2119" dy="22.85">宙之间，也回荡在我们的心间。青春是令人无</tspan><tspan x="2119" dy="22.85">法忘怀的。所以我们应该尊敬青春，享受青春</tspan><tspan x="2119" dy="22.85">，把握青春。青春，应该这样过。</tspan></text></g>
</g>
</svg>
